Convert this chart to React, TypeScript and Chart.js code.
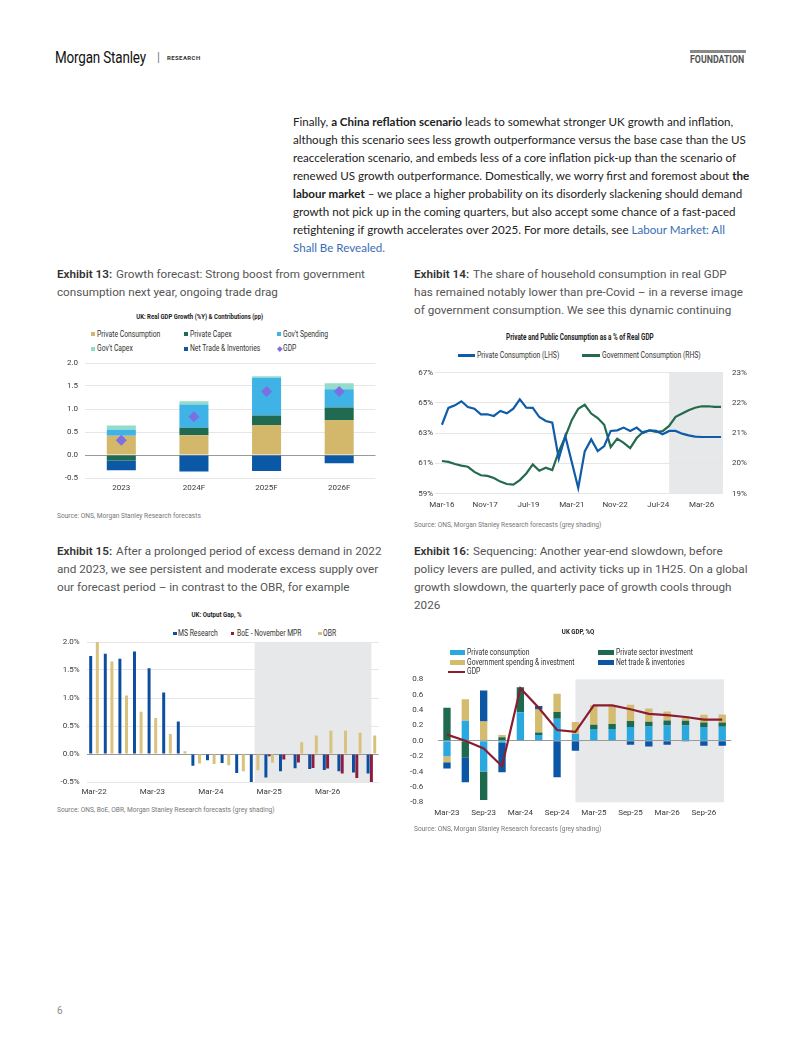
import React, { useEffect, useRef } from "react";
import { Chart, registerables } from "chart.js";

Chart.register(...registerables);

// ---------------- Exhibit 13 data ----------------
const ex13Years = ["2023", "2024F", "2025F", "2026F"];
const ex13PrivateConsumption = [0.42, 0.43, 0.65, 0.76];
const ex13PrivateCapex = [-0.12, 0.16, 0.21, 0.27];
const ex13GovSpending = [0.13, 0.51, 0.82, 0.4];
const ex13GovCapex = [0.09, 0.07, 0.03, 0.13];
const ex13NetTrade = [-0.21, -0.36, -0.35, -0.18];
const ex13Gdp = [0.32, 0.83, 1.38, 1.38];

// ---------------- Exhibit 14 data ----------------
const ex14Quarters = [
  "Mar-16", "Jun-16", "Sep-16", "Dec-16", "Mar-17", "Jun-17", "Sep-17", "Dec-17",
  "Mar-18", "Jun-18", "Sep-18", "Dec-18", "Mar-19", "Jun-19", "Sep-19", "Dec-19",
  "Mar-20", "Jun-20", "Sep-20", "Dec-20", "Mar-21", "Jun-21", "Sep-21", "Dec-21",
  "Mar-22", "Jun-22", "Sep-22", "Dec-22", "Mar-23", "Jun-23", "Sep-23", "Dec-23",
  "Mar-24", "Jun-24", "Sep-24", "Dec-24", "Mar-25", "Jun-25", "Sep-25", "Dec-25",
  "Mar-26", "Jun-26", "Sep-26", "Dec-26",
];
const ex14Private = [
  63.56, 64.67, 64.84, 65.11, 64.73, 64.62, 64.25, 64.25, 64.14, 64.47, 64.31, 64.62,
  65.24, 64.69, 64.67, 64.07, 63.81, 63.7, 61.32, 62.81, 61.1, 59.38, 61.8, 62.59,
  61.82, 62.15, 63.15, 63.19, 63.37, 63.15, 63.37, 63.01, 63.19, 63.15, 62.93, 63.15,
  63.15, 62.97, 62.86, 62.77, 62.75, 62.75, 62.75, 62.75,
];
const ex14Government = [
  20.08, 20.05, 19.98, 19.93, 19.89, 19.72, 19.61, 19.59, 19.52, 19.4, 19.32, 19.3,
  19.45, 19.67, 19.97, 19.76, 19.86, 19.78, 20.39, 20.88, 21.43, 21.81, 21.94, 21.65,
  21.5, 21.28, 20.54, 20.82, 20.68, 20.51, 20.84, 21.04, 21.09, 21.04, 21.07, 21.24,
  21.54, 21.65, 21.76, 21.84, 21.89, 21.89, 21.87, 21.87,
];
const ex14TickLabels = ["Mar-16", "Nov-17", "Jul-19", "Mar-21", "Nov-22", "Jul-24", "Mar-26"];
const ex14ForecastStart = "Dec-24";

// ---------------- Exhibit 15 data ----------------
const ex15Quarters = [
  "Mar-22", "Jun-22", "Sep-22", "Dec-22", "Mar-23", "Jun-23", "Sep-23", "Dec-23",
  "Mar-24", "Jun-24", "Sep-24", "Dec-24", "Mar-25", "Jun-25", "Sep-25", "Dec-25",
  "Mar-26", "Jun-26", "Sep-26", "Dec-26",
];
const ex15MsResearch = [1.75, 1.79, 1.7, 1.83, 1.53, 1.1, 0.58, -0.21, -0.11, -0.16, -0.34, -0.55, -0.42, -0.31, -0.255, -0.27, -0.285, -0.31, -0.33, -0.35];
const ex15BoE = [null, null, null, null, null, null, null, null, null, null, null, null, -0.04, -0.1, -0.15, -0.25, -0.26, -0.35, -0.43, -0.5];
const ex15Obr = [2.0, 1.65, 1.045, 0.755, 0.645, 0.355, 0.047, -0.17, -0.18, -0.2, -0.31, -0.29, -0.155, 0.01, 0.21, 0.33, 0.415, 0.415, 0.38, 0.33];
const ex15ForecastStart = "Dec-24";

// ---------------- Exhibit 16 data ----------------
const ex16Quarters = [
  "Mar-23", "Jun-23", "Sep-23", "Dec-23", "Mar-24", "Jun-24", "Sep-24", "Dec-24",
  "Mar-25", "Jun-25", "Sep-25", "Dec-25", "Mar-26", "Jun-26", "Sep-26", "Dec-26",
];
const ex16PrivateConsumption = [-0.2, 0.26, -0.4, -0.03, 0.373, 0.074, 0.286, 0.087, 0.152, 0.152, 0.178, 0.186, 0.2, 0.2, 0.178, 0.182];
const ex16PrivateInvestment = [0.43, -0.215, -0.37, 0.045, 0.325, 0.034, 0.09, 0, 0.056, 0.065, 0.078, 0.061, 0.065, 0.06, 0.06, 0.056];
const ex16GovSpending = [-0.08, 0.28, 0.25, 0.03, 0, 0.3, 0.235, 0.156, 0.256, 0.247, 0.212, 0.173, 0.115, 0.06, 0.1, 0.104];
const ex16NetTrade = [-0.08, -0.325, 0.405, -0.38, 0, 0.045, -0.473, -0.13, 0, 0, -0.052, -0.074, -0.05, -0.01, -0.065, -0.065];
const ex16Gdp = [0.08, 0.0, -0.1, -0.33, 0.685, 0.43, 0.14, 0.115, 0.46, 0.46, 0.41, 0.35, 0.335, 0.31, 0.275, 0.275];
const ex16ForecastStart = "Dec-24";

// ---------------- helpers ----------------
const TICK_FONT = { family: "Roboto, sans-serif", size: 8 };
const TICK_COLOR = "#3a3a3a";
const SHADE = "#e7e8ea";

function shadePlugin(range: (chart: any) => [number, number]) {
  return {
    id: "shade",
    beforeDraw(chart: any) {
      const { ctx, chartArea } = chart;
      const [x0, x1] = range(chart);
      ctx.save();
      ctx.fillStyle = SHADE;
      ctx.fillRect(x0, chartArea.top, x1 - x0, chartArea.bottom - chartArea.top);
      ctx.restore();
    },
  };
}

// fix a scale's size and stop its tick labels from pushing the plot area around
function fixWidth(w: number) {
  return (s: any) => {
    s.width = w;
    s.paddingTop = 0; s.paddingBottom = 0; s.paddingLeft = 0; s.paddingRight = 0;
  };
}
function fixHeight(h: number) {
  return (s: any) => {
    s.height = h;
    s.paddingTop = 0; s.paddingBottom = 0; s.paddingLeft = 0; s.paddingRight = 0;
  };
}

function ChartBox({ left, top, width, height, make }: { left: number; top: number; width: number; height: number; make: () => any }) {
  const ref = useRef<HTMLCanvasElement>(null);
  useEffect(() => {
    const chart = new Chart(ref.current as HTMLCanvasElement, make());
    return () => chart.destroy();
  }, []);
  return (
    <div style={{ position: "absolute", left, top, width, height }}>
      <canvas ref={ref} width={width} height={height} style={{ width, height, display: "block" }} />
    </div>
  );
}

type TP = {
  x: number; y: number; size: number; weight?: number; color?: string; sx?: number;
  align?: "left" | "center"; family?: string; ls?: number; children: React.ReactNode;
};
function T({ x, y, size, weight = 400, color = "#333", sx = 1, align = "left", family = "Roboto, sans-serif", ls = 0, children }: TP) {
  const lh = Math.round(size * 1.3);
  const inner: React.CSSProperties = {
    display: "inline-block",
    transform: sx !== 1 ? `scaleX(${sx})` : undefined,
    transformOrigin: align === "center" ? "center" : "left",
    whiteSpace: "nowrap",
    letterSpacing: ls,
  };
  const base: React.CSSProperties = {
    position: "absolute", top: y - lh / 2, fontSize: size, lineHeight: lh + "px",
    fontWeight: weight, color, fontFamily: family, whiteSpace: "nowrap",
  };
  if (align === "center") {
    return (
      <div style={{ ...base, left: x - 300, width: 600, textAlign: "center" }}>
        <span style={inner}>{children}</span>
      </div>
    );
  }
  return (
    <div style={{ ...base, left: x }}>
      <span style={inner}>{children}</span>
    </div>
  );
}

function Box({ x, y, w, h, color, rot = false }: { x: number; y: number; w: number; h: number; color: string; rot?: boolean }) {
  return (
    <div style={{ position: "absolute", left: x, top: y - h / 2, width: w, height: h, background: color, transform: rot ? "rotate(45deg)" : undefined }} />
  );
}

const BASE_OPTS = {
  animation: false, responsive: false, events: [] as string[],
  plugins: { legend: { display: false }, title: { display: false }, tooltip: { enabled: false } },
};

// ---------------- chart configs ----------------
function makeEx13() {
  return {
    type: "bar",
    data: {
      labels: ex13Years,
      datasets: [
        { label: "Private Consumption", data: ex13PrivateConsumption, backgroundColor: "#d3b86c", stack: "s" },
        { label: "Private Capex", data: ex13PrivateCapex, backgroundColor: "#1f6a50", stack: "s" },
        { label: "Gov't Spending", data: ex13GovSpending, backgroundColor: "#3fb3e5", stack: "s" },
        { label: "Gov't Capex", data: ex13GovCapex, backgroundColor: "#93dccb", stack: "s" },
        { label: "Net Trade & Inventories", data: ex13NetTrade, backgroundColor: "#0a58a6", stack: "s" },
        {
          type: "line", label: "GDP", data: ex13Gdp, showLine: false, stack: "gdp", order: -1,
          pointStyle: "rectRot", pointRadius: 5.5, backgroundColor: "#7b6fe3", borderColor: "#7b6fe3", borderWidth: 0,
        },
      ],
    },
    options: {
      ...BASE_OPTS,
      layout: { autoPadding: false, padding: { top: 8, right: 11.5, left: 0, bottom: 0 } },
      datasets: { bar: { barPercentage: 1, categoryPercentage: 0.4 } },
      scales: {
        x: {
          stacked: true, grid: { display: false, drawTicks: false }, border: { display: false },
          ticks: { font: TICK_FONT, color: TICK_COLOR, padding: 5.2, maxRotation: 0 },
          afterFit: fixHeight(22),
        },
        y: {
          stacked: true, min: -0.5, max: 2.0,
          ticks: { stepSize: 0.5, font: TICK_FONT, color: TICK_COLOR, padding: 7, callback: (v: any) => Number(v).toFixed(1) },
          grid: { drawTicks: false, color: (c: any) => (Math.abs(c.tick.value) < 1e-9 ? "#9a9a9a" : "#e6e6e6") },
          border: { display: false },
          afterFit: fixWidth(28),
        },
      },
    },
  };
}

function makeEx14() {
  const shadeStart = ex14Quarters.indexOf(ex14ForecastStart) * 3;
  return {
    type: "line",
    data: {
      datasets: [
        {
          label: "Private Consumption (LHS)", yAxisID: "y",
          data: ex14Quarters.map((_, i) => ({ x: i * 3, y: ex14Private[i] })),
          borderColor: "#0f5ca8", borderWidth: 2.2, pointRadius: 0, tension: 0,
        },
        {
          label: "Government Consumption (RHS)", yAxisID: "y1",
          data: ex14Quarters.map((_, i) => ({ x: i * 3, y: ex14Government[i] })),
          borderColor: "#236b4c", borderWidth: 2.2, pointRadius: 0, tension: 0,
        },
      ],
    },
    options: {
      ...BASE_OPTS,
      layout: { autoPadding: false, padding: { top: 7.7, right: 0, left: 0, bottom: 0 } },
      scales: {
        x: {
          type: "linear", min: -3.2, max: 129.9,
          afterBuildTicks: (s: any) => { s.ticks = ex14TickLabels.map((_, i) => ({ value: i * 20 })); },
          ticks: { font: TICK_FONT, color: TICK_COLOR, padding: 6.2, maxRotation: 0, autoSkip: false, callback: (v: any) => ex14TickLabels[Math.round(Number(v) / 20)] },
          grid: { display: false, drawTicks: false }, border: { display: false },
          afterFit: fixHeight(21.3),
        },
        y: {
          position: "left", min: 59, max: 67,
          ticks: { stepSize: 2, font: TICK_FONT, color: TICK_COLOR, padding: 2, callback: (v: any) => v + "%" },
          grid: { drawTicks: false, color: "#e6e6e6" }, border: { display: false },
          afterFit: fixWidth(25),
        },
        y1: {
          position: "right", min: 19, max: 23,
          ticks: { stepSize: 1, font: TICK_FONT, color: TICK_COLOR, padding: 9, callback: (v: any) => v + "%" },
          grid: { display: false, drawTicks: false }, border: { display: false },
          afterFit: fixWidth(32),
        },
      },
    },
    plugins: [shadePlugin((c: any) => [c.scales.x.getPixelForValue(shadeStart), c.chartArea.right])],
  };
}

function makeEx15() {
  const s0 = ex15Quarters.indexOf(ex15ForecastStart);
  const s1 = ex15Quarters.length - 1;
  return {
    type: "bar",
    data: {
      labels: ex15Quarters,
      datasets: [
        { label: "MS Research", data: ex15MsResearch, backgroundColor: "#0c4fa0" },
        { label: "BoE - November MPR", data: ex15BoE, backgroundColor: "#8c1d3e" },
        { label: "OBR", data: ex15Obr, backgroundColor: "#d8c27c" },
      ],
    },
    options: {
      ...BASE_OPTS,
      layout: { autoPadding: false, padding: { top: 7, right: 8.3, left: 0, bottom: 0 } },
      datasets: { bar: { barPercentage: 0.9, categoryPercentage: 0.68 } },
      scales: {
        x: {
          grid: { display: false, drawTicks: false }, border: { display: false },
          ticks: { font: TICK_FONT, color: TICK_COLOR, padding: 5.2, maxRotation: 0, autoSkip: false, callback: (_v: any, i: number) => (i % 4 === 0 ? ex15Quarters[i] : "") },
          afterFit: fixHeight(23),
        },
        y: {
          min: -0.5, max: 2.0,
          ticks: { stepSize: 0.5, font: TICK_FONT, color: TICK_COLOR, padding: 7, callback: (v: any) => Number(v).toFixed(1) + "%" },
          grid: { drawTicks: false, color: (c: any) => (Math.abs(c.tick.value) < 1e-9 ? "#9a9a9a" : "#e6e6e6") },
          border: { display: false },
          afterFit: fixWidth(29.7),
        },
      },
    },
    plugins: [shadePlugin((c: any) => [c.scales.x.getPixelForValue(s0), c.scales.x.getPixelForValue(s1)])],
  };
}

function makeEx16() {
  const s0 = ex16Quarters.indexOf(ex16ForecastStart);
  const s1 = ex16Quarters.length - 1 + 0.1;
  return {
    type: "bar",
    data: {
      labels: ex16Quarters,
      datasets: [
        { label: "Private consumption", data: ex16PrivateConsumption, backgroundColor: "#2aa8e0", stack: "s" },
        { label: "Private sector investment", data: ex16PrivateInvestment, backgroundColor: "#1d6a4e", stack: "s" },
        { label: "Government spending & investment", data: ex16GovSpending, backgroundColor: "#d3bb6f", stack: "s" },
        { label: "Net trade & inventories", data: ex16NetTrade, backgroundColor: "#0b57a5", stack: "s" },
        {
          type: "line", label: "GDP", data: ex16Gdp, stack: "gdp", order: -1,
          borderColor: "#8b1d32", borderWidth: 2.2, pointRadius: 0, tension: 0,
        },
      ],
    },
    options: {
      ...BASE_OPTS,
      layout: { autoPadding: false, padding: { top: 7.3, right: 18.6, left: 0, bottom: 0 } },
      datasets: { bar: { barPercentage: 1, categoryPercentage: 0.4 } },
      scales: {
        x: {
          stacked: true, grid: { display: false, drawTicks: false }, border: { display: false },
          ticks: { font: TICK_FONT, color: TICK_COLOR, padding: 5.6, maxRotation: 0, autoSkip: false, callback: (_v: any, i: number) => (i % 2 === 0 ? ex16Quarters[i] : "") },
          afterFit: fixHeight(19.7),
        },
        y: {
          stacked: true, min: -0.8, max: 0.8,
          ticks: { stepSize: 0.2, font: TICK_FONT, color: TICK_COLOR, padding: 14.5, callback: (v: any) => Number(v).toFixed(1) },
          grid: { drawTicks: false, color: (c: any) => (Math.abs(c.tick.value) < 1e-9 ? "#9a9a9a" : "rgba(0,0,0,0)") },
          border: { display: false },
          afterFit: fixWidth(27.8),
        },
      },
    },
    plugins: [shadePlugin((c: any) => [c.scales.x.getPixelForValue(s0), c.scales.x.getPixelForValue(s1)])],
  };
}

// ---------------- page ----------------
const BODY = "Lato, 'Noto Sans', sans-serif";
const CAP = "Roboto, sans-serif";
const LINK = "#3a6db3";

function ExLabel({ n }: { n: number }) {
  return <span style={{ fontWeight: 600, color: "#333", marginRight: 4 }}>Exhibit {n}:</span>;
}

export default function App() {
  const para = 11.6;
  const pl = 18.1;
  const p0 = 121;
  const cap = 11.7;
  const capC = "#555";
  const lg = 8.5;
  const lgSx = 0.8;
  const src = 6.6;
  return (
    <div style={{ position: "absolute", left: 0, top: 0, width: 802, height: 1037, background: "#fff", overflow: "hidden" }}>
      {/* header */}
      <T x={55} y={57} size={16} sx={0.84} color="#111" ls={-0.2}>Morgan Stanley</T>
      <T x={157} y={57} size={12} color="#777">|</T>
      <T x={167} y={58} size={6} weight={700} color="#333" ls={0.4}>RESEARCH</T>
      <div style={{ position: "absolute", left: 690, top: 50, width: 56, height: 2.5, background: "#8a8a8a" }} />
      <T x={690} y={59} size={10} weight={700} color="#555" sx={0.88}>FOUNDATION</T>

      {/* paragraph */}
      <T x={293} y={p0} size={para} family={BODY} color="#222">Finally, <b>a China reflation scenario</b> leads to somewhat stronger UK growth and inflation,</T>
      <T x={293} y={p0 + pl} size={para} family={BODY} color="#222">although this scenario sees less growth outperformance versus the base case than the US</T>
      <T x={293} y={p0 + pl * 2} size={para} family={BODY} color="#222">reacceleration scenario, and embeds less of a core inflation pick-up than the scenario of</T>
      <T x={293} y={p0 + pl * 3} size={para} family={BODY} color="#222">renewed US growth outperformance. Domestically, we worry first and foremost about <b>the</b></T>
      <T x={293} y={p0 + pl * 4} size={para} family={BODY} color="#222"><b>labour market</b> – we place a higher probability on its disorderly slackening should demand</T>
      <T x={293} y={p0 + pl * 5} size={para} family={BODY} color="#222">growth not pick up in the coming quarters, but also accept some chance of a fast-paced</T>
      <T x={293} y={p0 + pl * 6} size={para} family={BODY} color="#222">retightening if growth accelerates over 2025. For more details, see <span style={{ color: LINK }}>Labour Market: All</span></T>
      <T x={293} y={p0 + pl * 7} size={para} family={BODY} color={LINK}>Shall Be Revealed.</T>

      {/* Exhibit 13 caption */}
      <T x={57} y={274} size={cap} family={CAP} color={capC}><ExLabel n={13} />Growth forecast: Strong boost from government</T>
      <T x={57} y={292} size={cap} family={CAP} color={capC}>consumption next year, ongoing trade drag</T>
      {/* Exhibit 14 caption */}
      <T x={414} y={274} size={cap} family={CAP} color={capC}><ExLabel n={14} />The share of household consumption in real GDP</T>
      <T x={414} y={292} size={cap} family={CAP} color={capC}>has remained notably lower than pre-Covid – in a reverse image</T>
      <T x={414} y={310} size={cap} family={CAP} color={capC}>of government consumption. We see this dynamic continuing</T>

      {/* Exhibit 13 chart */}
      <T x={200} y={317} size={8} weight={700} color="#222" sx={0.75} align="center">UK: Real GDP Growth (%Y) &amp; Contributions (pp)</T>
      <Box x={91} y={334.3} w={4} h={4} color="#d3b86c" />
      <T x={97} y={334.3} size={lg} sx={lgSx}>Private Consumption</T>
      <Box x={184} y={334.3} w={4} h={4} color="#1f6a50" />
      <T x={190} y={334.3} size={lg} sx={lgSx}>Private Capex</T>
      <Box x={277} y={334.3} w={4} h={4} color="#3fb3e5" />
      <T x={283} y={334.3} size={lg} sx={lgSx}>Gov't Spending</T>
      <Box x={91} y={348.7} w={4} h={4} color="#93dccb" />
      <T x={97} y={348.7} size={lg} sx={lgSx}>Gov't Capex</T>
      <Box x={184} y={348.7} w={4} h={4} color="#0a58a6" />
      <T x={190} y={348.7} size={lg} sx={lgSx}>Net Trade &amp; Inventories</T>
      <Box x={277.5} y={348.7} w={3.6} h={3.6} color="#7b6fe3" rot />
      <T x={283} y={348.7} size={lg} sx={lgSx}>GDP</T>
      <ChartBox left={57} top={355} width={330} height={145} make={makeEx13} />
      <T x={57} y={516} size={src} color="#777">Source: ONS, Morgan Stanley Research forecasts</T>

      {/* Exhibit 14 chart */}
      <T x={580} y={337} size={8.3} weight={700} color="#222" sx={0.77} align="center">Private and Public Consumption as a % of Real GDP</T>
      <Box x={458} y={355.5} w={17} h={2.2} color="#0f5ca8" />
      <T x={476.5} y={355.5} size={lg} sx={lgSx}>Private Consumption (LHS)</T>
      <Box x={582} y={355.5} w={18} h={2.2} color="#236b4c" />
      <T x={601.5} y={355.5} size={lg} sx={lgSx}>Government Consumption (RHS)</T>
      <ChartBox left={410} top={365} width={345} height={150} make={makeEx14} />
      <T x={414} y={525} size={src} color="#777">Source: ONS, Morgan Stanley Research forecasts (grey shading)</T>

      {/* Exhibit 15 caption */}
      <T x={57} y={551} size={cap} family={CAP} color={capC}><ExLabel n={15} />After a prolonged period of excess demand in 2022</T>
      <T x={57} y={569} size={cap} family={CAP} color={capC}>and 2023, we see persistent and moderate excess supply over</T>
      <T x={57} y={587} size={cap} family={CAP} color={capC}>our forecast period – in contrast to the OBR, for example</T>
      {/* Exhibit 16 caption */}
      <T x={414} y={551} size={cap} family={CAP} color={capC}><ExLabel n={16} />Sequencing: Another year-end slowdown, before</T>
      <T x={414} y={569} size={cap} family={CAP} color={capC}>policy levers are pulled, and activity ticks up in 1H25. On a global</T>
      <T x={414} y={587} size={cap} family={CAP} color={capC}>growth slowdown, the quarterly pace of growth cools through</T>
      <T x={414} y={605} size={cap} family={CAP} color={capC}>2026</T>

      {/* Exhibit 15 chart */}
      <T x={217} y={615} size={8} weight={700} color="#222" sx={0.77} align="center">UK: Output Gap, %</T>
      <Box x={173} y={633.3} w={3.6} h={3.6} color="#0c4fa0" />
      <T x={178} y={633.3} size={lg} sx={lgSx}>MS Research</T>
      <Box x={230.7} y={633.3} w={3.6} h={3.6} color="#8c1d3e" />
      <T x={236.5} y={633.3} size={lg} sx={lgSx}>BoE - November MPR</T>
      <Box x={318.3} y={633.3} w={3.6} h={3.6} color="#d8c27c" />
      <T x={323.3} y={633.3} size={lg} sx={lgSx}>OBR</T>
      <ChartBox left={57} top={635} width={330} height={170} make={makeEx15} />
      <T x={57} y={810} size={src} color="#777">Source: ONS, BoE, OBR, Morgan Stanley Research forecasts (grey shading)</T>

      {/* Exhibit 16 chart */}
      <T x={578} y={631.5} size={8} weight={700} color="#222" sx={0.77} align="center">UK GDP, %Q</T>
      <Box x={449.5} y={652.3} w={15.5} h={5} color="#2aa8e0" />
      <T x={466.7} y={652.3} size={lg} sx={lgSx}>Private consumption</T>
      <Box x={598} y={652.3} w={15.5} h={5} color="#1d6a4e" />
      <T x={615.7} y={652.3} size={lg} sx={lgSx}>Private sector investment</T>
      <Box x={449.5} y={662.3} w={15.5} h={5} color="#d3bb6f" />
      <T x={466.7} y={662.3} size={lg} sx={lgSx}>Government spending &amp; investment</T>
      <Box x={598} y={662.3} w={15.5} h={5} color="#0b57a5" />
      <T x={615.7} y={662.3} size={lg} sx={lgSx}>Net trade &amp; inventories</T>
      <Box x={448} y={671.8} w={17} h={2.2} color="#8b1d32" />
      <T x={466.7} y={671.8} size={lg} sx={lgSx}>GDP</T>
      <ChartBox left={410} top={672} width={340} height={150} make={makeEx16} />
      <T x={414} y={829} size={src} color="#777">Source: ONS, Morgan Stanley Research forecasts (grey shading)</T>

      {/* page number */}
      <T x={57} y={1010} size={10} color="#888">6</T>
    </div>
  );
}
